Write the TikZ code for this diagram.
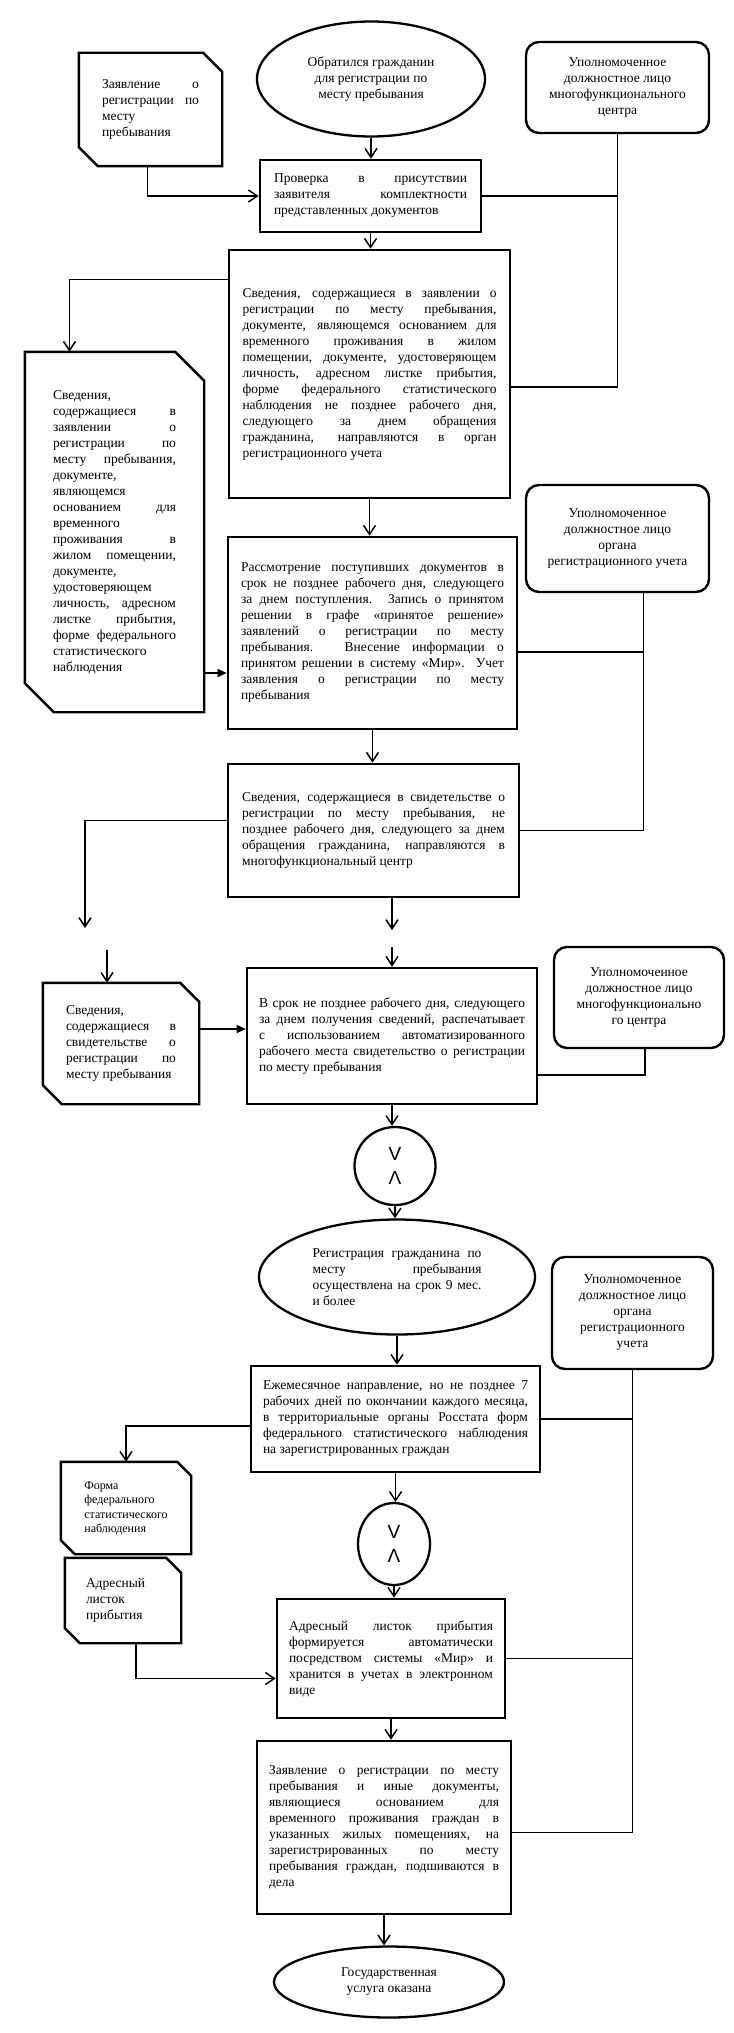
\documentclass[tikz,border=0pt]{standalone}
\usepackage{fontspec}
\setmainfont{Liberation Serif}
\setsansfont{Liberation Sans}
\usetikzlibrary{shapes.geometric,arrows.meta}

\begin{document}
\begin{tikzpicture}[x=1pt, y=-1pt,
	every node/.style={inner sep=0pt, font={\fontsize{13.5}{16}\selectfont\hyphenpenalty=10000\tolerance=9999\relax}},
	blk/.style 2 args={draw, line width=2.6pt, minimum width=#1, minimum height=#2, align=justify},
	rblk/.style 2 args={draw, rounded corners=13pt, line width=2.4pt, minimum width=#1, minimum height=#2, align=center},
	oval/.style 2 args={draw, ellipse, line width=2.3pt, minimum width=#1, minimum height=#2},
	doc/.style 2 args={rectangle, minimum width=#1, minimum height=#2},
	docline/.style={line width=2.4pt, line join=miter},
	vv/.style={font={\sffamily\fontsize{19}{24}\selectfont}, align=center},
	ln/.style={line width=1.5pt},
	arr/.style={line width=1.5pt, -{Straight Barb[length=9pt,width=12pt]}},
	farr/.style={line width=1.5pt, -{Triangle[length=9pt,width=8pt]}}]
	\useasboundingbox (0,0) rectangle (733,2033);

	\node[oval={228pt}{115pt}, align=center] (E1) at (371,79) {Обратился гражданин\\для регистрации по\\месту пребывания};
	\node[doc={143pt}{113pt}, text width=97pt, align=justify] (D1) at (150.5,109.5) {Заявление о\linebreak регистрации по\linebreak месту\newline пребывания};
	\node[rblk={183pt}{91pt}] (R1) at (617.5,87.5) {Уполномоченное\\должностное лицо\\многофункционального\\центра};
	\node[blk={221pt}{72pt}, text width=193pt] (P1) at (370.5,196) {Проверка в присутствии\linebreak заявителя комплектности\linebreak представленных документов};
	\node[blk={281pt}{248pt}, text width=254pt] (S1) at (369.5,374) {Сведения, содержащиеся в заявлении о\linebreak
		регистрации по месту пребывания,\linebreak
		документе, являющемся основанием для\linebreak
		временного проживания в жилом\linebreak
		помещении, документе, удостоверяющем\linebreak
		личность, адресном листке прибытия,\linebreak
		форме федерального статистического\linebreak
		наблюдения не позднее рабочего дня,\linebreak
		следующего за днем обращения\linebreak
		гражданина, направляются в орган\linebreak
		регистрационного учета};
	\node[doc={179pt}{360pt}, text width=123pt, align=justify] (D2) at (114.5,532) {Сведения,\newline
		содержащиеся в\linebreak заявлении о\linebreak регистрации по\linebreak месту пребывания,\linebreak
		документе,\newline являющемся\newline основанием для\linebreak временного\newline проживания в\linebreak
		жилом помещении,\linebreak документе,\newline удостоверяющем\newline личность, адресном\linebreak
		листке прибытия,\linebreak форме федерального\linebreak статистического\newline наблюдения};
	\node[rblk={183pt}{107pt}] (R2) at (617.5,538.5) {Уполномоченное\\должностное лицо\\органа\\регистрационного учета};
	\node[blk={289pt}{192pt}, text width=263pt] (S2) at (372.5,633) {Рассмотрение поступивших документов в\linebreak
		срок не позднее рабочего дня, следующего\linebreak
		за днем поступления. Запись о принятом\linebreak
		решении в графе «принятое решение»\linebreak
		заявлений о регистрации по месту\linebreak
		пребывания. Внесение информации о\linebreak
		принятом решении в систему «Мир». Учет\linebreak
		заявления о регистрации по месту\linebreak
		пребывания};
	\node[blk={291pt}{133pt}, text width=263pt] (S3) at (373.5,830.5) {Сведения, содержащиеся в свидетельстве о\linebreak
		регистрации по месту пребывания, не\linebreak
		позднее рабочего дня, следующего за днем\linebreak
		обращения гражданина, направляются в\linebreak
		многофункциональный центр};
	\node[doc={156pt}{121pt}, text width=110pt, align=justify] (D3) at (121,1043.5) {Сведения,\newline содержащиеся в\linebreak свидетельстве о\linebreak регистрации по\linebreak месту пребывания};
	\node[blk={290pt}{136pt}, text width=266pt] (S4) at (392,1036) {В срок не позднее рабочего дня, следующего\linebreak
		за днем получения сведений, распечатывает\linebreak
		с использованием автоматизированного\linebreak
		рабочего места свидетельство о регистрации\linebreak
		по месту пребывания};
	\node[rblk={170pt}{101pt}] (R3) at (639,997.5) {Уполномоченное\\должностное лицо\\многофункционально\\го центра};
	\node[oval={81pt}{78pt}, vv] (C1) at (395,1166) {V\\Λ};
	\node[oval={276pt}{115pt}, text width=169pt, align=justify] (E2) at (397,1277) {Регистрация гражданина по\linebreak месту пребывания\linebreak осуществлена на срок 9~мес.\linebreak и более};
	\node[rblk={161pt}{112pt}] (R4) at (632.5,1313) {Уполномоченное\\должностное лицо\\органа\\регистрационного\\учета};
	\node[blk={289pt}{106pt}, text width=265pt] (S5) at (395.5,1419) {Ежемесячное направление, но не позднее 7\linebreak
		рабочих дней по окончании каждого месяца,\linebreak
		в территориальные органы Росстата форм\linebreak
		федерального статистического наблюдения\linebreak
		на зарегистрированных граждан};
	\node[doc={130pt}{92pt}, align=left, font={\fontsize{12}{14.5}\selectfont}] (D4) at (126,1508) {Форма\\федерального\\статистического\\наблюдения};
	\node[oval={72pt}{82pt}, vv] (C2) at (394,1544) {V\\Λ};
	\node[doc={116pt}{85pt}, text width=74pt, align=left] (D5) at (123,1600.5) {Адресный\\листок\\прибытия};
	\node[blk={228pt}{119pt}, text width=204pt] (S6) at (391,1658.5) {Адресный листок прибытия\linebreak
		формируется автоматически\linebreak
		посредством системы «Мир» и\linebreak
		хранится в учетах в электронном\linebreak
		виде};
	\node[blk={254pt}{173pt}, text width=230pt] (S7) at (384,1827.5) {Заявление о регистрации по месту\linebreak
		пребывания и иные документы,\linebreak
		являющиеся основанием для\linebreak
		временного проживания граждан в\linebreak
		указанных жилых помещениях, на\linebreak
		зарегистрированных по месту\linebreak
		пребывания граждан, подшиваются в\linebreak
		дела};
	\node[oval={230pt}{71pt}, align=center] (E3) at (389,1982) {Государственная\\услуга оказана};

	\foreach \n/\c in {D1/19, D2/29, D3/19, D4/14, D5/15}
		\draw[docline] (\n.north west) -- ([xshift=-\c]\n.north east) -- ([yshift=-\c]\n.north east)
			-- (\n.south east) -- ([xshift=\c]\n.south west) -- ([yshift=\c]\n.south west) -- cycle;

	\foreach \a/\b in {E1/P1, P1/S1, S1/S2, S2/S3, S4/C1, C1/E2, E2/S5, S5/C2, C2/S6, S6/S7, S7/E3}
		\draw[arr] (\a.south) -- (\b.north -| \a.south);
	\draw[arr] ([xshift=-3pt]D1.south) |- (P1.west);
	\draw[ln] (R1.south) |- ([yshift=-13pt]S1.east);
	\draw[ln] (P1.east) -- (P1.east -| R1.south);
	\draw[arr] ([yshift=-31pt]S1.north west) -| ([xshift=-45pt]D2.north);
	\coordinate (d2in) at ([yshift=-40pt]S2.west);
	\draw[farr] (D2.east |- d2in) -- (d2in);
	\draw[ln] ([xshift=26pt]R2.south) |- (S3.east);
	\draw[ln] ([yshift=-19pt]S2.east) -| ([xshift=26pt]R2.south);
	\coordinate (L1) at (85,928);
	\coordinate (L2) at (107,950);
	\draw[arr] ([yshift=10pt]S3.west) -| (L1);
	\draw[arr] (L2) -- (L2 |- D3.north);
	\coordinate (M1) at (392,930);
	\coordinate (M2) at (392,947);
	\draw[arr] (S3.south -| M1) -- (M1);
	\draw[arr] (M2) -- (M2 |- S4.north);
	\coordinate (d3in) at ([yshift=7pt]S4.west);
	\draw[farr] (D3.east |- d3in) -- (d3in);
	\draw[ln] ([xshift=6pt]R3.south) |- ([yshift=-39pt]S4.east);
	\draw[arr] ([yshift=-7pt]S5.west) -| (D4.north);
	\draw[ln] (R4.south) |- ([yshift=-5pt]S7.east);
	\foreach \n in {S5, S6}
		\draw[ln] (\n.east) -- (\n.east -| R4.south);
	\draw[arr] ([xshift=13pt]D5.south) |- ([yshift=-20pt]S6.west);
\end{tikzpicture}
\end{document}
